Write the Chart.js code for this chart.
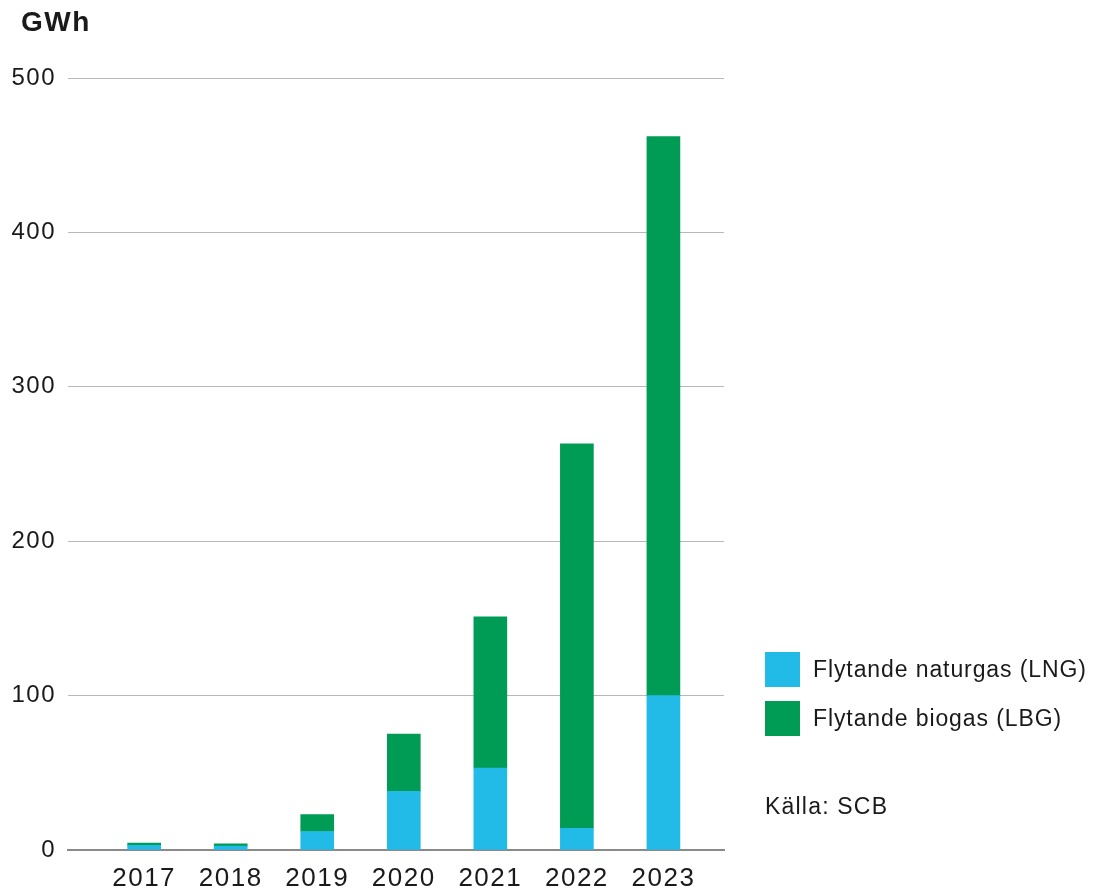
<!DOCTYPE html>
<html>
<head>
<meta charset="utf-8">
<script src="https://cdn.jsdelivr.net/npm/chart.js@4.4.1/dist/chart.umd.min.js"></script>
<style>
  body { margin: 0; background: #fff; font-family: "Liberation Sans", Arial, sans-serif; color: #1a1a1a; }
  #wrap { position: relative; width: 1096px; height: 890px; }
  #unit { position: absolute; left: 21px; top: 6px; font-size: 28px; font-weight: bold; letter-spacing: 1.5px; }
  #legend { position: absolute; left: 765px; top: 652px; }
  .item { display: flex; align-items: center; height: 35px; margin-bottom: 14px; font-size: 23px; letter-spacing: 0.9px; white-space: nowrap; }
  .swatch { width: 35px; height: 35px; margin-right: 13px; flex: none; }
  #source { position: absolute; left: 765px; top: 793px; font-size: 23px; letter-spacing: 1.2px; }
</style>
</head>
<body>
<div id="wrap">
  <canvas id="gasChart" width="1096" height="890"></canvas>
  <div id="unit">GWh</div>
  <div id="legend"></div>
  <div id="source">Källa: SCB</div>
</div>
<script>
const years = [2017, 2018, 2019, 2020, 2021, 2022, 2023];
const lngValues = [3, 2.5, 12, 38, 53, 14, 100];
const lbgValues = [1.5, 1.5, 11, 37, 98, 249, 362];
const seriesNames = ['Flytande naturgas (LNG)', 'Flytande biogas (LBG)'];
const seriesColors = ['#22bbe8', '#009b55'];
const yTicks = [0, 100, 200, 300, 400, 500];

Chart.defaults.color = '#1a1a1a';
Chart.defaults.font.family = '"Liberation Sans", Arial, sans-serif';

function toPoints(values) {
  return years.map((y, i) => ({ x: y, y: values[i] }));
}

// slightly wider tracking on axis labels
const spacing = {
  id: 'spacing',
  beforeDraw(chart) { chart.ctx.letterSpacing = '1.5px'; }
};

const ctx = document.getElementById('gasChart').getContext('2d');
new Chart(ctx, {
  type: 'bar',
  data: {
    datasets: [
      { label: seriesNames[0], data: toPoints(lngValues), backgroundColor: seriesColors[0], barThickness: 33 },
      { label: seriesNames[1], data: toPoints(lbgValues), backgroundColor: seriesColors[1], barThickness: 33 }
    ]
  },
  options: {
    responsive: false,
    animation: false,
    layout: { padding: { top: 78, right: 372, left: 0, bottom: 0 } },
    plugins: { legend: { display: false }, tooltip: { enabled: false } },
    scales: {
      x: {
        type: 'linear',
        stacked: true,
        offset: false,
        min: 2016.12,
        max: 2023.7,
        afterFit: s => { s.height = 40; },
        afterBuildTicks: s => { s.ticks = years.map(v => ({ value: v })); },
        grid: { display: false, drawTicks: false },
        border: { color: '#8a8a8a', width: 2 },
        ticks: {
          autoSkip: false,
          maxRotation: 0,
          padding: 13,
          font: { size: 26 },
          callback: v => String(v)
        }
      },
      y: {
        stacked: true,
        min: 0,
        max: 500,
        afterFit: s => { s.width = 68; },
        afterBuildTicks: s => { s.ticks = yTicks.map(v => ({ value: v })); },
        grid: { color: '#b8b8b8', lineWidth: 1, drawTicks: false },
        border: { display: false },
        ticks: { padding: 12, font: { size: 24 }, callback: v => String(v) }
      }
    }
  },
  plugins: [spacing]
});

let legendHtml = '';
seriesNames.forEach((name, i) => {
  legendHtml += `<div class="item"><div class="swatch" style="background:${seriesColors[i]}"></div>${name}</div>`;
});
document.getElementById('legend').innerHTML = legendHtml;
</script>
</body>
</html>
